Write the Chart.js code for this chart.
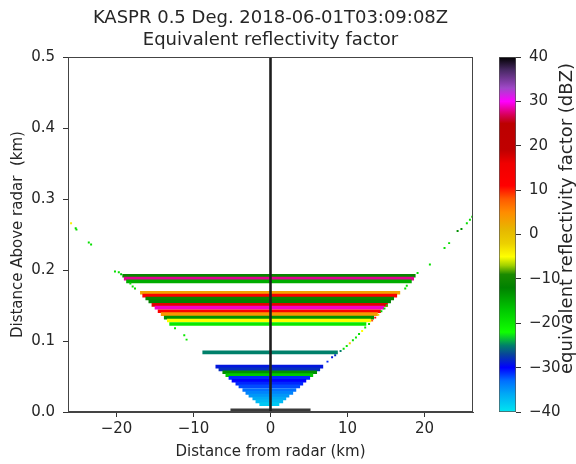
<!DOCTYPE html>
<html>
<head>
<meta charset="utf-8">
<title>KASPR reflectivity</title>
<script src="https://cdn.jsdelivr.net/npm/chart.js@4"></script>
<style>
  html, body { margin: 0; padding: 0; background: #fff; }
  #wrap { position: relative; width: 576px; height: 464px; }
  #main { position: absolute; left: 0; top: 0; }
  #cbar { position: absolute; left: 490px; top: 0; }
</style>
</head>
<body>
<div id="wrap">
  <canvas id="main" width="490" height="464"></canvas>
  <canvas id="cbar" width="86" height="464"></canvas>
</div>
<script>
// KASPR 0.5 deg scan, equivalent reflectivity factor

const FONT = '"DejaVu Sans", sans-serif';
const TEXT = '#262626';

// axes
const xRange = [-26.3, 26.3];
const yRange = [0, 0.5];
const xTicks = [-20, -10, 0, 10, 20];
const yTicks = [0, 0.1, 0.2, 0.3, 0.4, 0.5];
const cbarTicks = [-40, -30, -20, -10, 0, 10, 20, 30, 40];

// colour map (dBZ -> colour)
const cmapLevels = [-40, -36, -33, -30, -27, -25, -22, -17, -12, -9, -7, -5, -2, 1, 5, 8, 11, 16, 19, 25, 27, 30, 33, 37, 40];
const cmapColors = ['#00e6f0', '#00aaf5', '#0070ff', '#0000ff', '#08459a', '#00806a', '#10ff00', '#00c800', '#008200', '#1a8a00', '#a0d000', '#ffff00', '#ecd000', '#e6b800', '#ff8c00', '#ff5a00', '#ff0000', '#f00000', '#c00000', '#bc0000', '#d8005a', '#ff00ff', '#a048c8', '#4a2a66', '#000000'];

// range-gate rows: height (km), left / right edge (km), dBZ
const bandHeights = [0.192, 0.188, 0.184, 0.168, 0.164, 0.160, 0.156, 0.151, 0.147, 0.142, 0.138, 0.133, 0.129, 0.124,
  0.084,
  0.064, 0.060, 0.056, 0.052, 0.048, 0.044, 0.040, 0.036, 0.031, 0.027, 0.023, 0.019, 0.015, 0.011];
const bandLeft = [-19.2, -19.0, -18.7, -16.9, -16.6, -16.2, -15.8, -15.4, -15.0, -14.6, -14.2, -13.8, -13.4, -13.1,
  -8.8,
  -7.1, -6.7, -6.2, -5.8, -5.4, -5.0, -4.5, -4.1, -3.6, -3.2, -2.8, -2.3, -1.9, -1.4];
const bandRight = [18.8, 18.6, 18.3, 16.8, 16.4, 16.0, 15.6, 15.2, 14.7, 14.3, 13.9, 13.4, 13.0, 12.4,
  8.7,
  6.8, 6.4, 6.0, 5.5, 5.1, 4.6, 4.2, 3.8, 3.3, 2.9, 2.4, 2.0, 1.6, 1.1];
const bandDbz = [-11, 28, -15, 3, 13, -11, -12, 17, 29, 12, 4, -13, -5, -20,
  -25,
  -29, -28, -13, -17, -31, -30, -31, -32, -33, -34, -35, -36, -37, -38];

// isolated gates along the beam edges
const dotX = [-25.9, -25.3, -25.2, -23.6, -23.3, -20.2, -19.7, -19.4, -18.2, -17.9, -17.6, -12.4, -11.2, -10.9,
  20.7, 22.6, 23.2, 24.3, 24.8, 25.5, 25.9, 26.2, 19.1, 17.7, 17.5,
  15.1, 14.8, 14.4, 14.0, 13.6, 13.2, 12.8, 12.3, 11.9, 11.5, 11.1, 10.7, 10.3, 9.9, 9.5, 9.1, 8.4, 8.0, 7.4];
const dotY = [0.266, 0.259, 0.257, 0.239, 0.236, 0.198, 0.197, 0.194, 0.181, 0.177, 0.174, 0.118, 0.108, 0.102,
  0.208, 0.231, 0.238, 0.255, 0.258, 0.266, 0.271, 0.275, 0.196, 0.178, 0.174,
  0.150, 0.146, 0.142, 0.137, 0.133, 0.129, 0.124, 0.119, 0.114, 0.110, 0.105, 0.101, 0.097, 0.093, 0.089, 0.086, 0.080, 0.077, 0.071];
const dotDbz = [-4, -19, -19, -19, -19, -19, -19, -17, -19, -19, -19, -20, -20, -20,
  -19, -19, -19, -13, -13, -19, -19, -20, -19, -19, -19,
  -19, -19, -18, -2, 12, 8, -19, -20, -5, -19, -20, -19, -2, -20, -19, -25, -28, -29, -31];

// low-level clutter strip near the radar
const clutterX = [-5.2, 5.2];
const clutterY = [0.003, 0.003];

function hexRgb(h) {
  return [1, 3, 5].map(i => parseInt(h.substr(i, 2), 16));
}

function colorFor(v) {
  if (v <= cmapLevels[0]) return cmapColors[0];
  for (let i = 1; i < cmapLevels.length; i++) {
    if (v <= cmapLevels[i]) {
      const t = (v - cmapLevels[i - 1]) / (cmapLevels[i] - cmapLevels[i - 1]);
      const a = hexRgb(cmapColors[i - 1]), b = hexRgb(cmapColors[i]);
      const c = a.map((x, k) => Math.round(x + (b[k] - x) * t));
      return `rgb(${c[0]},${c[1]},${c[2]})`;
    }
  }
  return cmapColors[cmapColors.length - 1];
}

const minus = v => (v < 0 ? '\u2212' + Math.abs(v) : String(v));

const frame = {
  id: 'frame',
  afterDatasetsDraw(chart) {
    const { ctx, chartArea: a } = chart;
    ctx.save();
    ctx.strokeStyle = '#444';
    ctx.lineWidth = 1;
    ctx.strokeRect(Math.round(a.left) + 0.5, Math.round(a.top) + 0.5, Math.round(a.right - a.left) - 1, Math.round(a.bottom - a.top) - 1);
    ctx.restore();
  }
};

new Chart(document.getElementById('main'), {
  type: 'scatter',
  data: {
    datasets: [
      {
        type: 'line',
        data: [{ x: 0, y: yRange[0] }, { x: 0, y: yRange[1] }],
        borderColor: '#1e1e1e', borderWidth: 2.6, pointRadius: 0, order: 0,
      },
      {
        type: 'line',
        data: clutterX.map((x, i) => ({ x, y: clutterY[i] })),
        borderColor: '#3a3a3a', borderWidth: 2.5, pointRadius: 0, order: 1,
      },
      {
        type: 'scatter',
        data: dotX.map((x, i) => ({ x, y: dotY[i] })),
        backgroundColor: dotDbz.map(colorFor),
        pointStyle: 'rect', pointRadius: 1.4, borderWidth: 0, order: 2,
      },
      {
        type: 'bar',
        indexAxis: 'y',
        data: bandHeights.map((h, i) => ({ y: h, x: [bandLeft[i], bandRight[i]] })),
        backgroundColor: bandDbz.map(colorFor),
        barThickness: 3, borderWidth: 0, order: 3,
      },
    ]
  },
  options: {
    responsive: false,
    animation: false,
    layout: { padding: { left: 0, right: 17, top: 0, bottom: 0 } },
    plugins: {
      legend: { display: false },
      tooltip: { enabled: false },
      title: {
        display: true,
        fullSize: false,
        text: ['KASPR 0.5 Deg. 2018-06-01T03:09:08Z', 'Equivalent reflectivity factor'],
        color: TEXT,
        font: { family: FONT, size: 18, weight: 'normal', lineHeight: 1.2 },
        padding: { top: 8, bottom: 6 },
      },
    },
    scales: {
      x: {
        type: 'linear', min: xRange[0], max: xRange[1], offset: false,
        afterBuildTicks: s => { s.ticks = xTicks.map(v => ({ value: v })); },
        afterFit: s => { s.height = 52; },
        ticks: { color: TEXT, font: { family: FONT, size: 15 }, padding: 3, autoSkip: false, maxRotation: 0, callback: minus },
        grid: { display: true, drawOnChartArea: false, drawTicks: true, tickLength: 5, tickColor: '#333', offset: false },
        border: { display: true, color: '#444' },
        title: { display: true, text: 'Distance from radar (km)', color: TEXT, font: { family: FONT, size: 15 }, padding: { top: 0, bottom: 3 } },
      },
      y: {
        type: 'linear', min: yRange[0], max: yRange[1], offset: false,
        afterBuildTicks: s => { s.ticks = yTicks.map(v => ({ value: v })); },
        afterFit: s => { s.width = 68; },
        ticks: { color: TEXT, font: { family: FONT, size: 15 }, padding: 8, autoSkip: false, callback: v => v.toFixed(1) },
        grid: { display: true, drawOnChartArea: false, drawTicks: true, tickLength: 5, tickColor: '#333', offset: false },
        border: { display: true, color: '#444' },
        title: { display: true, text: 'Distance Above radar  (km)', color: TEXT, font: { family: FONT, size: 15 }, padding: { top: 9, bottom: 0 } },
      },
    },
  },
  plugins: [frame],
});

// colour bar
const cbarLabel = {
  id: 'cbarLabel',
  afterDraw(chart) {
    const { ctx, chartArea: a } = chart;
    ctx.save();
    ctx.translate(77, (a.top + a.bottom) / 2 - 16);
    ctx.rotate(-Math.PI / 2);
    ctx.font = '18px ' + FONT;
    ctx.fillStyle = TEXT;
    ctx.textAlign = 'center';
    ctx.textBaseline = 'middle';
    ctx.fillText('equivalent reflectivity factor (dBZ)', 0, 0);
    ctx.restore();
  }
};

function cbarGradient(ctx) {
  const y = ctx.chart.scales.y;
  if (!y) return cmapColors[0];
  const lo = cmapLevels[0], hi = cmapLevels[cmapLevels.length - 1];
  const y0 = y.getPixelForValue(lo), y1 = y.getPixelForValue(hi);
  if (!Number.isFinite(y0) || !Number.isFinite(y1) || y0 === y1) return cmapColors[0];
  const g = ctx.chart.ctx.createLinearGradient(0, y0, 0, y1);
  cmapLevels.forEach((lv, i) => g.addColorStop((lv - lo) / (hi - lo), cmapColors[i]));
  return g;
}

new Chart(document.getElementById('cbar'), {
  type: 'bar',
  data: {
    labels: [''],
    datasets: [{
      data: [[cbarTicks[0], cbarTicks[cbarTicks.length - 1]]],
      backgroundColor: cbarGradient,
      borderColor: '#555', borderWidth: 1, borderSkipped: false,
      barPercentage: 1, categoryPercentage: 1,
    }]
  },
  options: {
    responsive: false,
    animation: false,
    layout: { padding: { left: 9, right: 0, top: 57, bottom: 52 } },
    plugins: { legend: { display: false }, tooltip: { enabled: false } },
    scales: {
      x: { display: false },
      y: {
        position: 'right', min: cbarTicks[0], max: cbarTicks[cbarTicks.length - 1],
        afterBuildTicks: s => { s.ticks = cbarTicks.map(v => ({ value: v })); },
        afterFit: s => { s.width = 60; },
        ticks: { color: TEXT, font: { family: FONT, size: 15 }, padding: 8, autoSkip: false, callback: minus },
        grid: { display: true, drawOnChartArea: false, drawTicks: true, tickLength: 5, tickColor: '#333' },
        border: { display: false },
      },
    },
  },
  plugins: [cbarLabel],
});
</script>
</body>
</html>
